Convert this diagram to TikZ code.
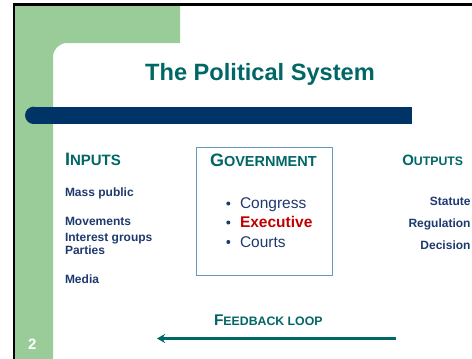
\documentclass[tikz,border=0pt]{standalone}
\usepackage{fontspec}
\setmainfont{Liberation Sans}
\usetikzlibrary{arrows.meta}
\definecolor{slidegreen}{RGB}{153,204,153}
\definecolor{barblue}{RGB}{0,51,102}
\definecolor{teal}{RGB}{0,102,102}
\definecolor{navytext}{RGB}{31,58,110}
\definecolor{boxedge}{RGB}{102,153,187}
\definecolor{execred}{RGB}{192,0,0}
\newcommand{\fs}[1]{\fontsize{#1}{#1}\selectfont}
\tikzset{
  txt/.style={inner sep=0pt, outer sep=0pt, anchor=base west},
  head/.style={txt, text=teal, font=\bfseries},
  initem/.style={txt, text=navytext, font=\fs{12}\bfseries},
  outitem/.style={initem, anchor=base east},
  govitem/.style={txt, text=navytext, font=\fs{15.5}},
  bulletdot/.style={fill=navytext, circle, inner sep=0pt, minimum size=4pt},
  fbarrow/.style={draw=teal, line width=2.5pt, -{Stealth[length=8pt,width=9pt,inset=2.5pt]}},
}
\begin{document}
\begin{tikzpicture}[x=1pt,y=-1pt]
\useasboundingbox (0,0) rectangle (472,359);
\fill[white] (0,0) rectangle (472,359);
% green frame
\fill[slidegreen] (15,5) -- (180,5) -- (180,43) -- (67,43)
   arc[start angle=270,end angle=180,radius=14] -- (53,359) -- (15,359) -- cycle;
% slide edge lines
\draw[black, line width=2.4pt] (13.8,361) -- (13.8,4.3) -- (474,4.3);
% blue bar
\fill[barblue] (34,106.7) rectangle (412,124);
\fill[barblue] (33.7,115.35) circle[radius=8.65];
% title
\node[txt, anchor=base, text=teal, font=\fs{23.6}\bfseries] (title) at (260,80) {The Political System};
% inputs
\node[head] (inputs) at (65,165.5) {{\fs{18}I}{\fs{15}NPUTS}};
\node[initem] (mass) at (65,196.7) {Mass public};
\node[initem] (mov) at (65,225.7) {Movements};
\node[initem] (intg) at (65,241) {Interest groups};
\node[initem] (part) at (65,254.3) {Parties};
\node[initem] (media) at (65,283.3) {Media};
% government box
\draw[boxedge, line width=1pt] (196,147.3) rectangle (332.7,275);
\node[head] (gov) at (210,166.7) {{\fs{18}G}{\fs{14.5}OVERNMENT}};
\node[bulletdot] (b1) at (228.3,203.5) {};
\node[bulletdot] (b2) at (228.3,222.5) {};
\node[bulletdot] (b3) at (228.3,242) {};
\node[govitem] (cong) at (240,208.3) {Congress};
\node[govitem, text=execred, font=\fs{15.5}\bfseries] (exec) at (240,227.3) {Executive};
\node[govitem] (courts) at (240,247) {Courts};
% outputs
\node[head] (outputs) at (402.3,165) {{\fs{15}O}{\fs{12.3}UTPUTS}};
\node[outitem] (stat) at (470.5,205.3) {Statute};
\node[outitem] (reg) at (470.5,227.3) {Regulation};
\node[outitem] (dec) at (470.5,249.3) {Decision};
% feedback
\node[head] (fb) at (214,325.5) {{\fs{15.5}F}{\fs{12.3}EEDBACK LOOP}};
\coordinate (fbR) at (396,338.5);
\coordinate (fbL) at (157,338.5);
\draw[fbarrow] (fbR) -- (fbL);
% page number
\node[txt, text=white, font=\fs{15}\bfseries] (pg) at (28,349) {2};
\end{tikzpicture}
\end{document}
